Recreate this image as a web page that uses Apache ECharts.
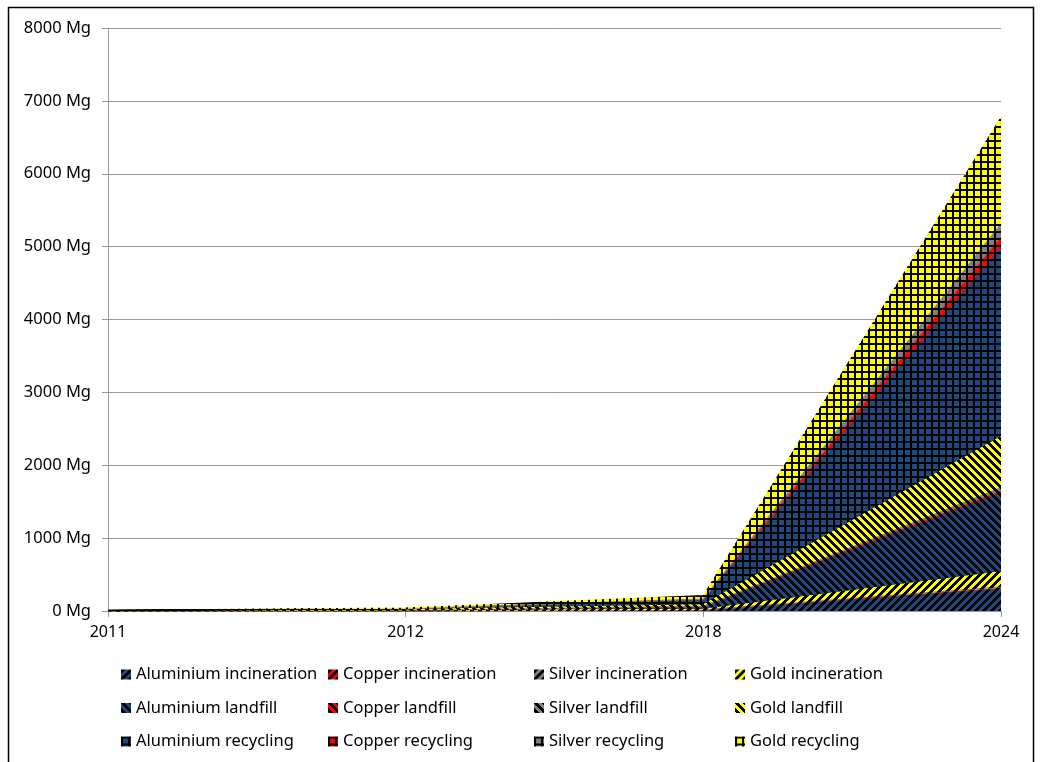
<!DOCTYPE html>
<html>
<head>
<meta charset="utf-8">
<script src="https://cdn.jsdelivr.net/npm/echarts@6/dist/echarts.min.js"></script>
<style>
html,body{margin:0;padding:0;background:#fff;}
#chart{width:1040px;height:762px;}
</style>
</head>
<body>
<div id="chart"></div>
<script>
// ---- data ----
const categories = ['2011', '2012', '2018', '2024'];
const yTicks = [0, 1000, 2000, 3000, 4000, 5000, 6000, 7000, 8000];

const aluminiumIncineration = [1, 3, 12, 300];
const copperIncineration    = [0.1, 0.3, 1, 12];
const silverIncineration    = [0.1, 0.3, 1, 20];
const goldIncineration      = [1, 3, 10, 205];
const aluminiumLandfill     = [1.5, 6, 35, 1073];
const copperLandfill        = [0.1, 0.5, 2, 30];
const silverLandfill        = [0.1, 0.5, 3, 50];
const goldLandfill          = [1, 4, 20, 700];
const aluminiumRecycling    = [2, 12, 70, 2590];
const copperRecycling       = [0.2, 1, 4, 140];
const silverRecycling       = [0.2, 1, 5, 190];
const goldRecycling         = [1.5, 8, 47, 1460];

// ---- patterns ----
function makePattern(color, kind) {
  const size = kind === 'grid' ? 7 : 8;
  const c = document.createElement('canvas');
  c.width = size; c.height = size;
  const ctx = c.getContext('2d');
  ctx.fillStyle = color;
  ctx.fillRect(0, 0, size, size);
  ctx.fillStyle = '#000';
  for (let y = 0; y < size; y++) {
    for (let x = 0; x < size; x++) {
      let black = false;
      if (kind === 'up') black = ((x + y) % 8) < 4;
      else if (kind === 'down') black = ((x - y + 8) % 8) < 4;
      else black = (x < 2 || y < 2);
      if (black) ctx.fillRect(x, y, 1, 1);
    }
  }
  return { image: c, repeat: 'repeat' };
}

const BLUE = '#1F4A80', RED = '#FF0000', GRAY = '#808080', YELLOW = '#FFFF00';

const seriesDefs = [
  ['Aluminium incineration', aluminiumIncineration, BLUE, 'up'],
  ['Copper incineration', copperIncineration, RED, 'up'],
  ['Silver incineration', silverIncineration, GRAY, 'up'],
  ['Gold incineration', goldIncineration, YELLOW, 'up'],
  ['Aluminium landfill', aluminiumLandfill, BLUE, 'down'],
  ['Copper landfill', copperLandfill, RED, 'down'],
  ['Silver landfill', silverLandfill, GRAY, 'down'],
  ['Gold landfill', goldLandfill, YELLOW, 'down'],
  ['Aluminium recycling', aluminiumRecycling, BLUE, 'grid'],
  ['Copper recycling', copperRecycling, RED, 'grid'],
  ['Silver recycling', silverRecycling, GRAY, 'grid'],
  ['Gold recycling', goldRecycling, YELLOW, 'grid']
];

const series = seriesDefs.map(([name, data, color, kind]) => {
  const pat = makePattern(color, kind);
  return {
    name: name,
    type: 'line',
    stack: 'total',
    data: data,
    symbol: 'none',
    showSymbol: false,
    color: pat,
    itemStyle: { color: pat },
    lineStyle: { width: 1.2, color: pat },
    areaStyle: { color: pat, opacity: 1 },
    emphasis: { disabled: true },
    animation: false
  };
});

const FONT = 'Noto Sans';
const legendCols = [
  { left: 121, names: ['Aluminium incineration', 'Aluminium landfill', 'Aluminium recycling'] },
  { left: 328, names: ['Copper incineration', 'Copper landfill', 'Copper recycling'] },
  { left: 534, names: ['Silver incineration', 'Silver landfill', 'Silver recycling'] },
  { left: 735, names: ['Gold incineration', 'Gold landfill', 'Gold recycling'] }
];

const legends = legendCols.map(col => ({
  orient: 'vertical',
  left: col.left,
  top: 666,
  data: col.names,
  icon: 'rect',
  itemWidth: 10,
  itemHeight: 10,
  itemGap: 16.5,
  padding: 0,
  selectedMode: false,
  textStyle: { fontFamily: FONT, fontSize: 16.5, color: '#000', lineHeight: 16, padding: [0, 0, 0, 0] }
}));

const chart = echarts.init(document.getElementById('chart'), null, { renderer: 'canvas' });
chart.setOption({
  animation: false,
  backgroundColor: '#fff',
  grid: { left: 108, right: 39, top: 28, bottom: 151, containLabel: false },
  xAxis: {
    type: 'category',
    data: categories,
    boundaryGap: false,
    axisLine: { lineStyle: { color: '#999999', width: 1 } },
    axisTick: { show: true, length: 6, lineStyle: { color: '#999999' } },
    axisLabel: { fontFamily: FONT, fontSize: 16, color: '#000', margin: 13 },
    splitLine: { show: false }
  },
  yAxis: {
    type: 'value',
    min: yTicks[0],
    max: yTicks[yTicks.length - 1],
    interval: 1000,
    axisLine: { show: true, lineStyle: { color: '#999999', width: 1 } },
    axisTick: { show: true, length: 6, lineStyle: { color: '#999999' } },
    axisLabel: { fontFamily: FONT, fontSize: 16.5, color: '#000', margin: 17, formatter: function (v) { return v + ' Mg'; } },
    splitLine: { show: true, lineStyle: { color: '#999999', width: 1 } }
  },
  legend: legends,
  series: series,
  graphic: [{
    type: 'rect',
    shape: { x: 8.5, y: 7.5, width: 1025, height: 760 },
    style: { fill: 'none', stroke: '#000', lineWidth: 1.5 },
    silent: true
  }]
});
</script>
</body>
</html>
